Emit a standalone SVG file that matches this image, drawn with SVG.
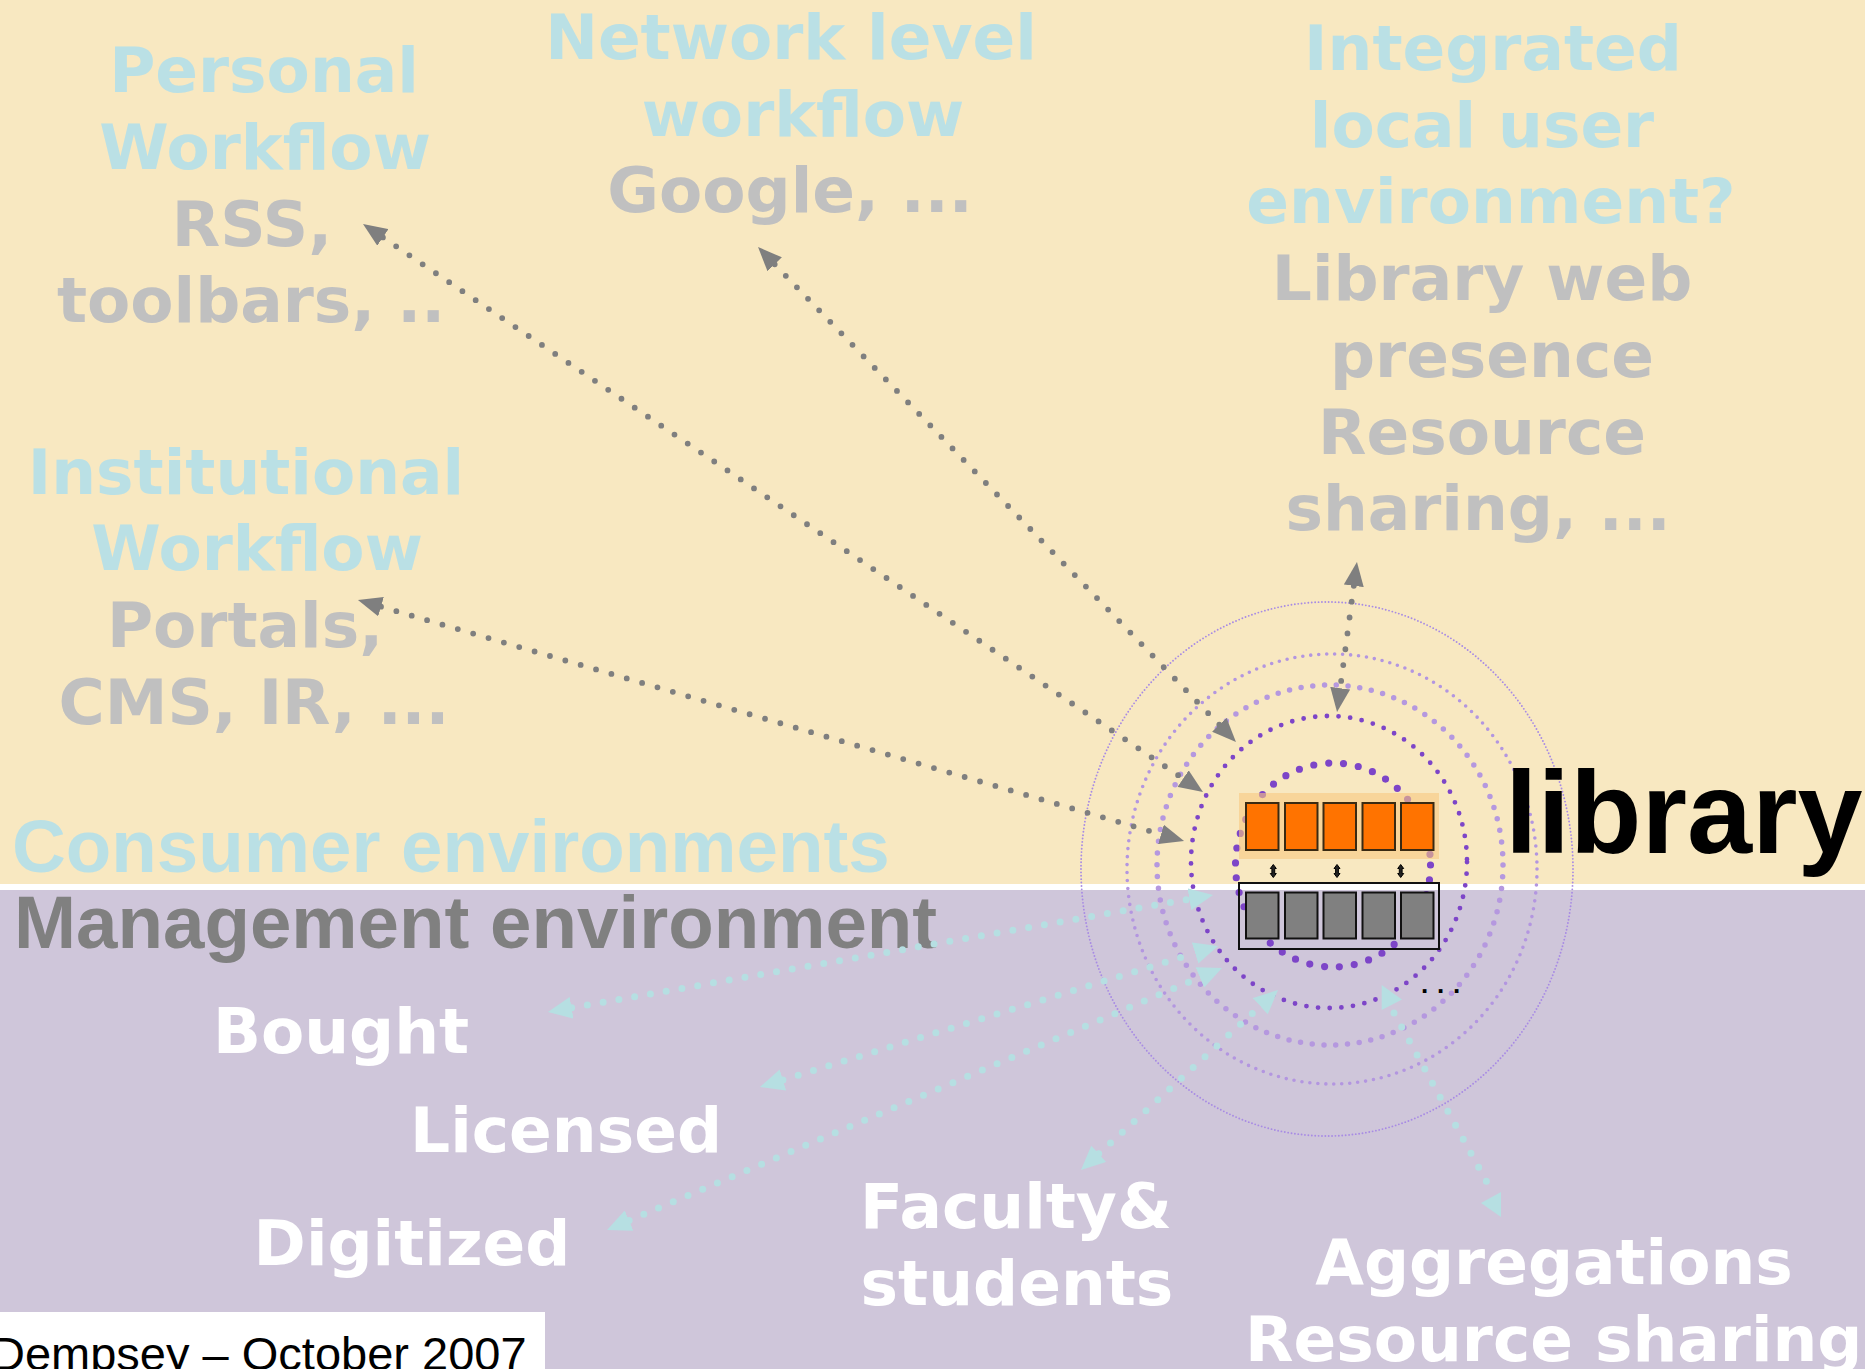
<svg xmlns="http://www.w3.org/2000/svg" width="1865" height="1369" viewBox="0 0 1865 1369">
  <style>
    .v { font-family: "DejaVu Sans", Verdana, sans-serif; font-weight: bold; font-size: 63px; }
    .a { font-family: "Liberation Sans", Arial, sans-serif; font-weight: bold; }
    .blue { fill: #BAE0E5; }
    .grey { fill: #C0C0C0; }
    .white { fill: #FFFFFF; }
    .gline { fill: none; stroke: #7F7F7F; stroke-width: 5.8; stroke-linecap: round; stroke-dasharray: 0 16; }
    .bline { fill: none; stroke: #B6DFE2; stroke-width: 7; stroke-linecap: round; stroke-dasharray: 0 16; }
    .ring { fill: none; stroke-linecap: round; }
    .obox { fill: #FF7300; stroke: #3A2A12; stroke-width: 2; }
    .gbox { fill: #808080; stroke: #111111; stroke-width: 2; }
  </style>
  <defs>
    <marker id="ahGrey" viewBox="0 0 24 20" refX="0" refY="10" markerWidth="24" markerHeight="20" markerUnits="userSpaceOnUse" orient="auto-start-reverse">
      <path d="M0,0 L24,10 L0,20 z" fill="#7F7F7F"/>
    </marker>
    <marker id="ahBlue" viewBox="0 0 24 22" refX="0" refY="11" markerWidth="24" markerHeight="22" markerUnits="userSpaceOnUse" orient="auto-start-reverse">
      <path d="M0,0 L24,11 L0,22 z" fill="#B6DFE2"/>
    </marker>
  </defs>

  <!-- backgrounds -->
  <rect x="0" y="0" width="1865" height="884" fill="#F8E8C1"/>
  <rect x="0" y="884" width="1865" height="6" fill="#FFFFFF"/>
  <rect x="0" y="890" width="1865" height="479" fill="#CFC6DA"/>

  <!-- environment headings -->
  <g id="consumer-heading">
    <text class="a blue" x="12" y="872" font-size="74.5">Consumer environments</text>
  </g>
  <g id="management-heading">
    <text class="a" x="14" y="948" font-size="74.5" fill="#808080">Management environment</text>
  </g>

  <!-- consumer-side nodes -->
  <g id="personal-workflow">
    <text class="v blue" x="264" y="92" text-anchor="middle">Personal</text>
    <text class="v blue" x="265" y="169" text-anchor="middle">Workflow</text>
    <text class="v grey" x="252" y="246" text-anchor="middle">RSS,</text>
    <text class="v grey" x="251" y="322" text-anchor="middle">toolbars, ..</text>
  </g>
  <g id="network-workflow">
    <text class="v blue" x="791" y="59" text-anchor="middle">Network level</text>
    <text class="v blue" x="803" y="136" text-anchor="middle">workflow</text>
    <text class="v grey" x="790" y="212" text-anchor="middle">Google, ...</text>
  </g>
  <g id="local-environment">
    <text class="v blue" x="1493" y="70" text-anchor="middle">Integrated</text>
    <text class="v blue" x="1482" y="147" text-anchor="middle">local user</text>
    <text class="v blue" x="1491" y="223" text-anchor="middle">environment?</text>
    <text class="v grey" x="1482" y="300" text-anchor="middle">Library web</text>
    <text class="v grey" x="1492" y="377" text-anchor="middle">presence</text>
    <text class="v grey" x="1482" y="454" text-anchor="middle">Resource</text>
    <text class="v grey" x="1478" y="530" text-anchor="middle">sharing, ...</text>
  </g>
  <g id="institutional-workflow">
    <text class="v blue" x="246" y="494" text-anchor="middle">Institutional</text>
    <text class="v blue" x="257" y="570" text-anchor="middle">Workflow</text>
    <text class="v grey" x="245" y="647" text-anchor="middle">Portals,</text>
    <text class="v grey" x="254" y="724" text-anchor="middle">CMS, IR, ...</text>
  </g>

  <!-- management-side nodes -->
  <g id="bought"><text class="v white" x="341" y="1053" text-anchor="middle">Bought</text></g>
  <g id="licensed"><text class="v white" x="566" y="1152" text-anchor="middle">Licensed</text></g>
  <g id="digitized"><text class="v white" x="412" y="1265" text-anchor="middle">Digitized</text></g>
  <g id="faculty-students">
    <text class="v white" x="1016" y="1228" text-anchor="middle">Faculty&amp;</text>
    <text class="v white" x="1017" y="1305" text-anchor="middle">students</text>
  </g>
  <g id="aggregations">
    <text class="v white" x="1554" y="1284" text-anchor="middle">Aggregations</text>
    <text class="v white" x="1245" y="1361">Resource sharing</text>
  </g>

  <!-- library core: rings, service layers -->
  <g id="library">
    <ellipse class="ring" cx="1327" cy="869" rx="246" ry="267" stroke="#A88BE4" stroke-width="1.9" stroke-dasharray="0 3.4"/>
    <ellipse class="ring" cx="1332" cy="869" rx="205" ry="215" stroke="#B396E0" stroke-width="3.6" stroke-dasharray="0 8"/>
    <ellipse class="ring" cx="1330" cy="865" rx="173" ry="180" stroke="#B598DF" stroke-width="5.5" stroke-dasharray="0 11.8"/>
    <ellipse class="ring" cx="1329" cy="862" rx="138" ry="146" stroke="#7D45C8" stroke-width="4.8" stroke-dasharray="0 11.7"/>
    <ellipse class="ring" cx="1333" cy="865" rx="97.5" ry="102" stroke="#7D45C8" stroke-width="7.2" stroke-dasharray="0 15"/>

    <rect x="1239" y="793" width="200" height="66" fill="#F8C880" fill-opacity="0.6"/>
    <rect class="obox" x="1246" y="803" width="32.5" height="47"/>
    <rect class="obox" x="1285" y="803" width="32.5" height="47"/>
    <rect class="obox" x="1323.5" y="803" width="32.5" height="47"/>
    <rect class="obox" x="1362.5" y="803" width="32.5" height="47"/>
    <rect class="obox" x="1401" y="803" width="32.5" height="47"/>

    <g fill="#222222" stroke="#000000" stroke-width="1">
      <path d="M1273.3,864.5 l3,4 h-1.6 v5 h1.6 l-3,4 l-3,-4 h1.6 v-5 h-1.6 z"/>
      <path d="M1337,864.5 l3,4 h-1.6 v5 h1.6 l-3,4 l-3,-4 h1.6 v-5 h-1.6 z"/>
      <path d="M1400.7,864.5 l3,4 h-1.6 v5 h1.6 l-3,4 l-3,-4 h1.6 v-5 h-1.6 z"/>
    </g>

    <rect x="1239" y="883" width="200" height="66" fill="none" stroke="#111111" stroke-width="2"/>
    <rect class="gbox" x="1246" y="892.5" width="32.5" height="46"/>
    <rect class="gbox" x="1285" y="892.5" width="32.5" height="46"/>
    <rect class="gbox" x="1323.5" y="892.5" width="32.5" height="46"/>
    <rect class="gbox" x="1362.5" y="892.5" width="32.5" height="46"/>
    <rect class="gbox" x="1401" y="892.5" width="32.5" height="46"/>

    <text class="a" x="1421" y="993" font-size="26" letter-spacing="8.8" fill="#000000">...</text>
    <text class="a" x="1505" y="853" font-size="117" fill="#000000">library</text>
  </g>

  <!-- connectors -->
  <g id="connectors">
    <path class="gline" d="M382.9,237.4 L1183.1,778.6" marker-start="url(#ahGrey)" marker-end="url(#ahGrey)"/>
    <path class="gline" d="M774.7,264.3 L1219.3,724.7" marker-start="url(#ahGrey)" marker-end="url(#ahGrey)"/>
    <path class="gline" d="M381,606.7 L1161,834.3" marker-start="url(#ahGrey)" marker-end="url(#ahGrey)"/>
    <path class="gline" d="M1353.8,585.8 L1340.2,688.2" marker-start="url(#ahGrey)" marker-end="url(#ahGrey)"/>

    <path class="bline" d="M571.6,1007.8 L1189.4,899.2" marker-start="url(#ahBlue)" marker-end="url(#ahBlue)"/>
    <path class="bline" d="M782.9,1079.9 L1195.1,953.1" marker-start="url(#ahBlue)" marker-end="url(#ahBlue)"/>
    <path class="bline" d="M629.1,1220.6 L1199.9,977.4" marker-start="url(#ahBlue)" marker-end="url(#ahBlue)"/>
    <path class="bline" d="M1098.7,1153.8 L1260.3,1006.2" marker-start="url(#ahBlue)" marker-end="url(#ahBlue)"/>
    <path class="bline" d="M1394,1013 L1490,1188"/>
    <polygon points="1381.7,985 1402,999.6 1381.7,1010" fill="#B6DFE2"/>
    <polygon points="1501,1192 1481,1203 1501,1217" fill="#B6DFE2"/>
  </g>

  <!-- footer -->
  <g id="footer">
    <rect x="0" y="1312" width="545" height="57" fill="#FFFFFF"/>
    <text x="-9" y="1370" font-family="'Liberation Sans', Arial, sans-serif" font-size="47" fill="#000000">Dempsey – October 2007</text>
  </g>
</svg>
